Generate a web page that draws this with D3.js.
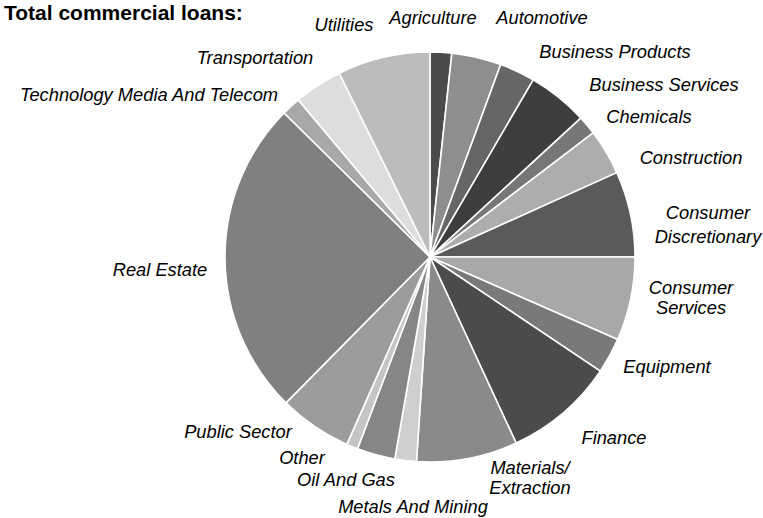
<!DOCTYPE html>
<html>
<head>
<meta charset="utf-8">
<script src="https://cdn.jsdelivr.net/npm/d3@7"></script>
<style>
  html, body { margin: 0; padding: 0; background: #fff; }
  svg { display: block; }
</style>
</head>
<body>
<svg id="chart" width="763" height="518"></svg>
<script>
// Share of total commercial loans by sector (%), clockwise from 12 o'clock
const sectors = [
  "Agriculture", "Automotive", "Business Products", "Business Services",
  "Chemicals", "Construction", "Consumer Discretionary", "Consumer Services",
  "Equipment", "Finance", "Materials/Extraction", "Metals And Mining",
  "Oil And Gas", "Other", "Public Sector", "Real Estate",
  "Technology Media And Telecom", "Transportation", "Utilities"
];
const shares = [
  1.7, 3.9, 2.8, 4.75,
  1.5, 3.6, 6.75, 6.6,
  2.8, 8.7, 7.95, 1.7,
  3.0, 0.9, 5.75, 25.0,
  1.5, 3.8, 7.3
];
// Slice fills (greys)
const fills = [
  "#4b4b4b", "#8e8e8e", "#666666", "#3e3e3e",
  "#777777", "#adadad", "#5a5a5a", "#a8a8a8",
  "#797979", "#4b4b4b", "#8a8a8a", "#cfcfcf",
  "#868686", "#c5c5c5", "#9c9c9c", "#808080",
  "#a8a8a8", "#dddddd", "#bcbcbc"
];
// Label text lines per slice
const labelLines = [
  ["Agriculture"], ["Automotive"], ["Business Products"], ["Business Services"],
  ["Chemicals"], ["Construction"], ["Consumer", "Discretionary"], ["Consumer", "Services"],
  ["Equipment"], ["Finance"], ["Materials/", "Extraction"], ["Metals And Mining"],
  ["Oil And Gas"], ["Other"], ["Public Sector"], ["Real Estate"],
  ["Technology Media And Telecom"], ["Transportation"], ["Utilities"]
];

// Layout: label anchor points (centre x, centre y of first line) and line gaps
const labelAnchors = [
  [433, 18], [542, 18], [615, 52], [664, 85],
  [649, 117], [691, 158], [708, 213], [691, 288],
  [667, 367], [614, 438], [530, 468], [413, 507],
  [346, 480], [302, 458], [238, 432], [160, 270],
  [149, 95], [255, 58], [344, 25]
];
const lineGaps = [0,0,0,0, 0,0,24,20, 0,0,20,0, 0,0,0,0, 0,0,0];

const cx = 430, cy = 257, radius = 205;
const labelFont = "Liberation Sans, Arial, sans-serif";

const svg = d3.select("#chart");

// Title
svg.append("text")
  .attr("x", 4)
  .attr("y", 20)
  .attr("font-family", labelFont)
  .attr("font-weight", "bold")
  .attr("font-size", 21)
  .attr("fill", "#000")
  .text("Total commercial loans:");

const data = sectors.map((s, i) => ({ name: s, value: shares[i], i }));

const pie = d3.pie()
  .sort(null)
  .value(d => d.value)
  .startAngle(0)
  .endAngle(2 * Math.PI);

const arc = d3.arc().innerRadius(0).outerRadius(radius);

const g = svg.append("g").attr("transform", `translate(${cx},${cy})`);

g.selectAll("path")
  .data(pie(data))
  .join("path")
  .attr("d", arc)
  .attr("fill", d => fills[d.data.i])
  .attr("stroke", "#fff")
  .attr("stroke-width", 1.6)
  .attr("stroke-linejoin", "round");

// Slice labels
const labels = svg.append("g")
  .attr("font-family", labelFont)
  .attr("font-style", "italic")
  .attr("font-size", 18.3)
  .attr("fill", "#000")
  .attr("text-anchor", "middle");

data.forEach((d, i) => {
  const [lx, ly] = labelAnchors[i];
  labelLines[i].forEach((line, k) => {
    labels.append("text")
      .attr("x", lx)
      .attr("y", ly + k * lineGaps[i])
      .attr("dy", "0.35em")
      .text(line);
  });
});
</script>
</body>
</html>
